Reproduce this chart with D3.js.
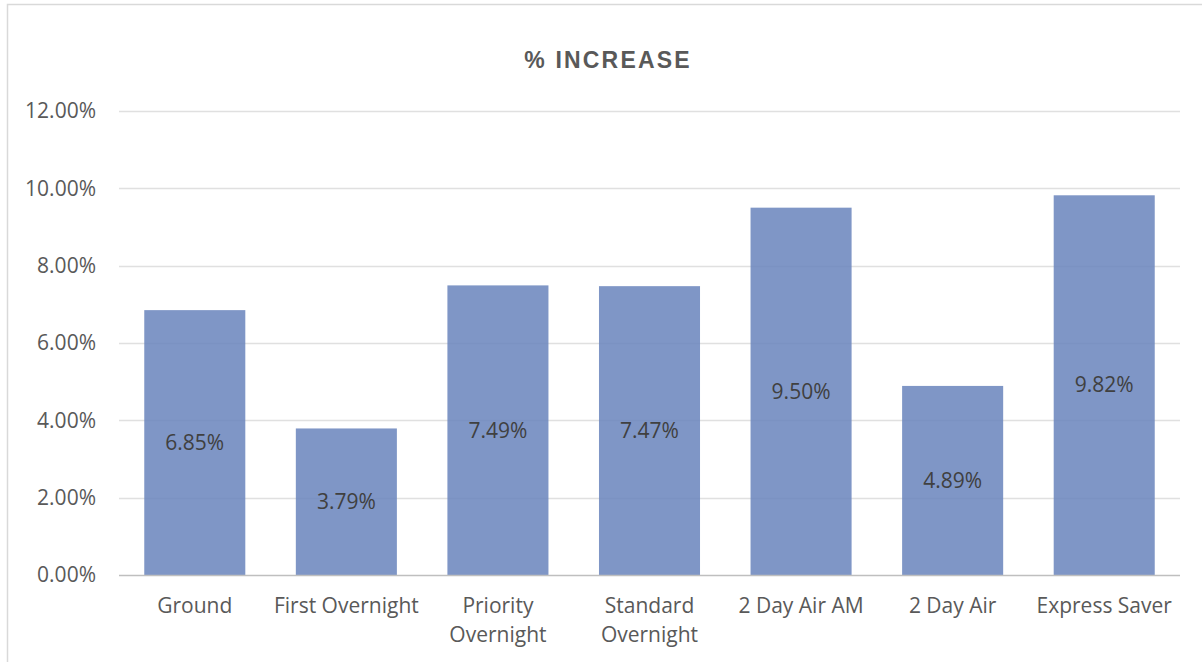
<!DOCTYPE html>
<html>
<head>
<meta charset="utf-8">
<script src="https://cdn.jsdelivr.net/npm/d3@7"></script>
<style>
  html, body { margin: 0; padding: 0; background: #fff; }
  svg { display: block; }
  .axis text { font-family: 'Open Sans', sans-serif; font-size: 21px; fill: #595959; }
</style>
</head>
<body>
<svg id="chart" width="1202" height="662"></svg>
<script>
var categories = [
  ['Ground'],
  ['First Overnight'],
  ['Priority', 'Overnight'],
  ['Standard', 'Overnight'],
  ['2 Day Air AM'],
  ['2 Day Air'],
  ['Express Saver']
];
var increase = [0.0685, 0.0379, 0.0749, 0.0747, 0.095, 0.0489, 0.0982];
var yTicks = [0, 0.02, 0.04, 0.06, 0.08, 0.10, 0.12];

var svg = d3.select('#chart'),
  margin = { top: 111, bottom: 87, left: 119, right: 22 },
  w = svg.attr('width') - margin.left - margin.right,
  h = svg.attr('height') - margin.top - margin.bottom;

var names = categories.map(function(c) { return c.join(' '); });
var data = names.map(function(n, i) { return { name: n, lines: categories[i], value: increase[i] }; });

// chart border (right and bottom sit outside the window)
svg.append('rect')
  .attr('x', 7.5).attr('y', 4.5)
  .attr('width', 1230).attr('height', 700)
  .attr('fill', '#fff')
  .attr('stroke', '#d9d9d9')
  .attr('stroke-width', 1.5);

svg.append('text')
  .attr('x', 608).attr('y', 68)
  .attr('text-anchor', 'middle')
  .attr('font-family', "'Liberation Sans', Arial, sans-serif")
  .attr('font-weight', 'bold')
  .attr('font-size', 23)
  .attr('letter-spacing', 2.2)
  .attr('fill', '#595959')
  .text('%  INCREASE');

var x = d3.scaleBand()
  .domain(names)
  .range([0, w])
  .paddingInner(1 / 3)
  .paddingOuter(1 / 6);

var y = d3.scaleLinear().domain([0, 0.12]).range([h, 0]);

var g = svg.append('g')
  .attr('transform', 'translate(' + margin.left + ',' + margin.top + ')');

// gridlines
g.append('g')
  .selectAll('line')
  .data(yTicks.slice(1))
  .enter()
  .append('line')
  .attr('x1', 0).attr('x2', w)
  .attr('y1', function(d) { return Math.round(y(d)) + 0.5; })
  .attr('y2', function(d) { return Math.round(y(d)) + 0.5; })
  .attr('stroke', '#e0e0e0')
  .attr('stroke-width', 1.5);

// y axis labels
var yAxis = g.append('g')
  .attr('class', 'axis axis--y')
  .call(d3.axisLeft(y).tickValues(yTicks).tickFormat(d3.format('.2%')).tickSize(0).tickPadding(23));
yAxis.select('.domain').remove();

// bars
g.selectAll('rect.bar')
  .data(data)
  .enter()
  .append('rect')
  .attr('class', 'bar')
  .attr('x', function(d) { return x(d.name); })
  .attr('y', function(d) { return y(d.value); })
  .attr('width', x.bandwidth())
  .attr('height', function(d) { return h - y(d.value); })
  .attr('fill', '#6984bc')
  .attr('fill-opacity', 0.85);

// baseline
g.append('line')
  .attr('x1', 0).attr('x2', w)
  .attr('y1', h + 0.5).attr('y2', h + 0.5)
  .attr('stroke', '#bfbfbf')
  .attr('stroke-width', 1.5);

// data labels
g.selectAll('text.label')
  .data(data)
  .enter()
  .append('text')
  .attr('class', 'label')
  .attr('x', function(d) { return x(d.name) + x.bandwidth() / 2; })
  .attr('y', function(d) { return (y(d.value) + h) / 2; })
  .attr('dy', '0.35em')
  .attr('text-anchor', 'middle')
  .attr('font-family', "'Open Sans', sans-serif")
  .attr('font-size', 21)
  .attr('fill', '#404040')
  .text(function(d) { return d3.format('.2%')(d.value); });

// x axis labels
var xl = g.append('g')
  .attr('class', 'axis axis--x')
  .attr('transform', 'translate(0,' + h + ')')
  .selectAll('text')
  .data(data)
  .enter()
  .append('text')
  .attr('x', function(d) { return x(d.name) + x.bandwidth() / 2; })
  .attr('y', 38)
  .attr('text-anchor', 'middle');
xl.selectAll('tspan')
  .data(function(d) { return d.lines; })
  .enter()
  .append('tspan')
  .attr('x', function() { var p = d3.select(this.parentNode).datum(); return x(p.name) + x.bandwidth() / 2; })
  .attr('dy', function(d, i) { return i === 0 ? 0 : 29; })
  .text(function(d) { return d; });
</script>
</body>
</html>
